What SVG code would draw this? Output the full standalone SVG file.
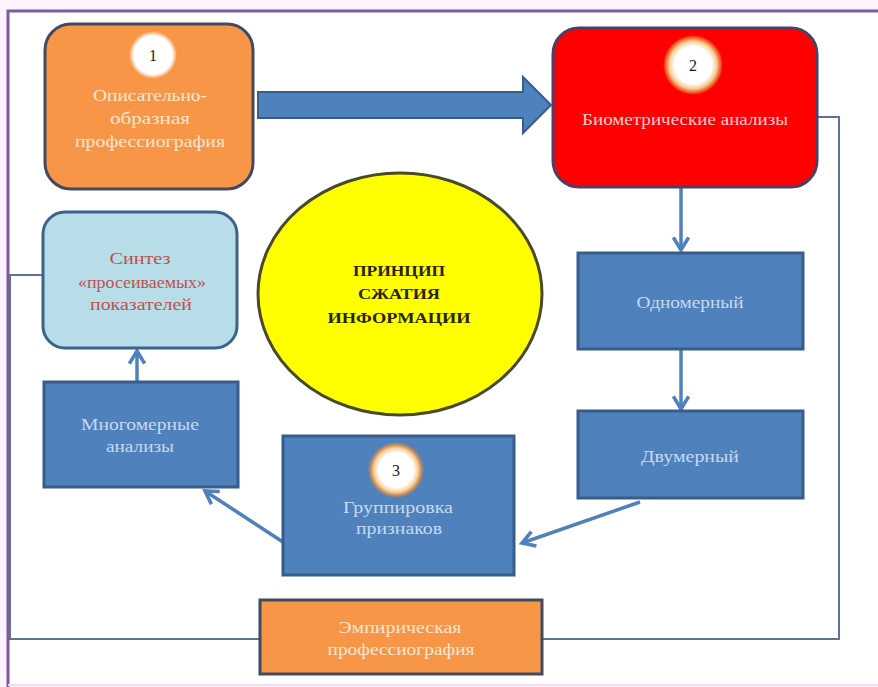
<svg xmlns="http://www.w3.org/2000/svg" width="878" height="687" viewBox="0 0 878 687">
<defs>
<style>
.t{font-family:"Liberation Serif","Times New Roman",serif;font-size:16px;text-anchor:middle}
.w{fill:#FBE6D6}
.lb{fill:#C9D9EE}
.num{font-family:"Liberation Serif",serif;font-size:16px;text-anchor:middle;fill:#1a1a1a}
.blue{fill:#4F81BD;stroke:#385D8A;stroke-width:3}
.orange{fill:#F79646;stroke:#404A63;stroke-width:3}
.conn{fill:none;stroke:#4F81BD;stroke-width:3.5}
.thin{fill:none;stroke:#5F7396;stroke-width:2}
</style>
<marker id="v" viewBox="0 0 20 20" refX="17" refY="10" markerWidth="18" markerHeight="18" markerUnits="userSpaceOnUse" orient="auto" overflow="visible">
<path d="M3,1.5 L17,10 L3,18.5" fill="none" stroke="#4F81BD" stroke-width="4" stroke-linejoin="miter"/>
</marker>
<radialGradient id="glow">
<stop offset="0" stop-color="#FFFFFF"/>
<stop offset="0.62" stop-color="#FFFFFF"/>
<stop offset="0.8" stop-color="#F9C98F"/>
<stop offset="0.92" stop-color="#E58A3A" stop-opacity="0.7"/>
<stop offset="1" stop-color="#E58A3A" stop-opacity="0"/>
</radialGradient>
<radialGradient id="glow1">
<stop offset="0" stop-color="#FFFFFF"/>
<stop offset="0.8" stop-color="#FFFFFF"/>
<stop offset="1" stop-color="#FFFFFF" stop-opacity="0"/>
</radialGradient>
</defs>
<rect x="0" y="0" width="878" height="687" fill="#FCF3FC"/>
<rect x="8" y="11" width="880" height="674" fill="#FFFFFF"/>
<path d="M878,11 L8,11 L8,687" fill="none" stroke="#7A5C9E" stroke-width="3"/>
<line x1="8" y1="685" x2="878" y2="685" stroke="#F3DDF3" stroke-width="2"/>

<g id="connectors">
<polyline class="thin" points="815,117 839,117 839,639 542,639"/>
<polyline class="thin" points="259,639 10,639 10,275 43,275"/>
<line class="conn" x1="681" y1="188" x2="681" y2="250" marker-end="url(#v)"/>
<line class="conn" x1="681" y1="349" x2="681" y2="409" marker-end="url(#v)"/>
<line class="conn" x1="640" y1="502" x2="522" y2="543" marker-end="url(#v)"/>
<line class="conn" x1="283" y1="542" x2="205" y2="491" marker-end="url(#v)"/>
<line class="conn" x1="137" y1="382" x2="137" y2="351" marker-end="url(#v)"/>
<path id="bigArrow" d="M258,92 L523,92 L523,77 L551,105 L523,133 L523,118 L258,118 Z" fill="#4F81BD" stroke="#385D8A" stroke-width="2"/>
</g>

<g id="node1">
<rect x="45" y="24" width="208" height="165" rx="26" ry="26" class="orange"/>
<circle cx="153" cy="55" r="24" fill="url(#glow1)"/>
<text x="153" y="61" class="num">1</text>
<text x="150" y="101" class="t w" textLength="114" lengthAdjust="spacingAndGlyphs">Описательно-</text>
<text x="150" y="124" class="t w" textLength="80" lengthAdjust="spacingAndGlyphs">образная</text>
<text x="150" y="147" class="t w" textLength="150" lengthAdjust="spacingAndGlyphs">профессиография</text>
</g>

<g id="node2">
<rect x="553" y="28" width="264" height="159" rx="26" ry="26" fill="#FF0000" stroke="#4E3F66" stroke-width="3"/>
<circle cx="693" cy="65" r="30" fill="url(#glow)"/>
<text x="693" y="71" class="num">2</text>
<text x="685" y="125" class="t" fill="#F7CFCF" textLength="206" lengthAdjust="spacingAndGlyphs">Биометрические анализы</text>
</g>

<g id="center">
<ellipse cx="400" cy="294" rx="142" ry="121" fill="#FFFF00" stroke="#4A4A2A" stroke-width="3"/>
<text x="399" y="276" class="t" style="font-weight:bold;font-size:15px" fill="#2A2200" textLength="92" lengthAdjust="spacingAndGlyphs">ПРИНЦИП</text>
<text x="399" y="299" class="t" style="font-weight:bold;font-size:15px" fill="#2A2200" textLength="82" lengthAdjust="spacingAndGlyphs">СЖАТИЯ</text>
<text x="399" y="323" class="t" style="font-weight:bold;font-size:15px" fill="#2A2200" textLength="143" lengthAdjust="spacingAndGlyphs">ИНФОРМАЦИИ</text>
</g>

<g id="synthesis">
<rect x="43" y="212" width="194" height="136" rx="22" ry="22" fill="#B7DDE8" stroke="#3E6389" stroke-width="3"/>
<text x="140" y="264" class="t" fill="#C0504D" textLength="61" lengthAdjust="spacingAndGlyphs">Синтез</text>
<text x="142" y="288" class="t" fill="#C0504D" textLength="128" lengthAdjust="spacingAndGlyphs">«просеиваемых»</text>
<text x="141" y="310" class="t" fill="#C0504D" textLength="102" lengthAdjust="spacingAndGlyphs">показателей</text>
</g>

<g id="onedim">
<rect x="578" y="253" width="225" height="96" class="blue"/>
<text x="690" y="308" class="t lb" textLength="107" lengthAdjust="spacingAndGlyphs">Одномерный</text>
</g>

<g id="twodim">
<rect x="578" y="411" width="225" height="87" class="blue"/>
<text x="690" y="462" class="t lb" textLength="98" lengthAdjust="spacingAndGlyphs">Двумерный</text>
</g>

<g id="grouping">
<rect x="283" y="436" width="231" height="139" class="blue"/>
<circle cx="396" cy="470" r="28" fill="url(#glow)"/>
<text x="396" y="476" class="num">3</text>
<text x="398" y="513" class="t lb" textLength="110" lengthAdjust="spacingAndGlyphs">Группировка</text>
<text x="399" y="534" class="t lb" textLength="86" lengthAdjust="spacingAndGlyphs">признаков</text>
</g>

<g id="multidim">
<rect x="44" y="382" width="194" height="105" class="blue"/>
<text x="140" y="430" class="t lb" textLength="118" lengthAdjust="spacingAndGlyphs">Многомерные</text>
<text x="140" y="452" class="t lb" textLength="68" lengthAdjust="spacingAndGlyphs">анализы</text>
</g>

<g id="empirical">
<rect x="260" y="600" width="282" height="74" class="orange"/>
<text x="400" y="633" class="t w" textLength="123" lengthAdjust="spacingAndGlyphs">Эмпирическая</text>
<text x="401" y="655" class="t w" textLength="147" lengthAdjust="spacingAndGlyphs">профессиография</text>
</g>
</svg>
